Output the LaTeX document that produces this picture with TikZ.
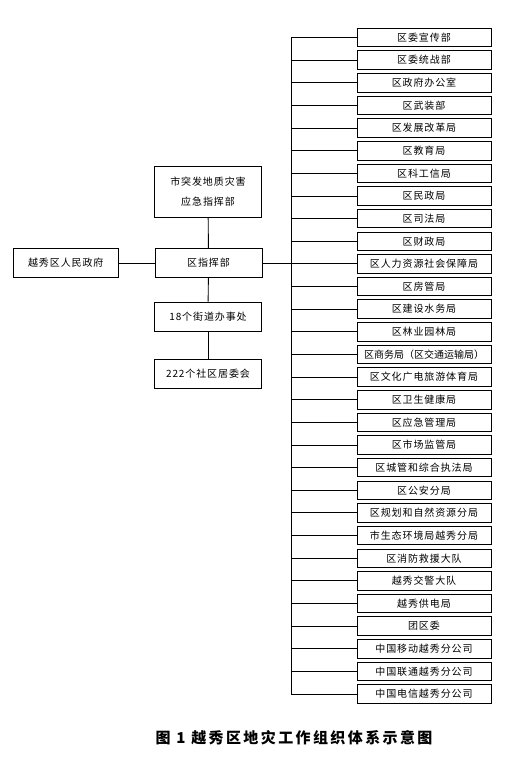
\documentclass[tikz,border=0pt]{standalone}
\usepackage{fontspec}
\setmainfont{Noto Sans CJK SC}
\usetikzlibrary{positioning}
\tikzset{
  unitbox/.style={draw, line width=0.9pt, minimum width=134pt, minimum height=18.5pt,
    inner sep=0pt, font=\fontsize{10}{12}\selectfont\addfontfeatures{LetterSpace=9}},
  leftbox/.style={unitbox, minimum width=107pt, minimum height=29pt},
  link/.style={line width=0.9pt}
}

\begin{document}
\begin{tikzpicture}[x=1pt,y=-1pt]
\useasboundingbox (0,0) rectangle (524,760);
\fill[white] (0,0) rectangle (524,760);
% left part
\node[leftbox] (cmd) at (208.5,263) {区指挥部};
\node[leftbox, minimum width=105pt] (gov) at (65.8,263) {越秀区人民政府};
\node[leftbox, minimum height=51pt, align=center, font=\fontsize{10}{20}\selectfont\addfontfeatures{LetterSpace=9}] (hq) at (208,191.5) {市突发地质灾害\\应急指挥部};
\node[leftbox] (street) at (208,316.5) {18个街道办事处};
\node[leftbox] (community) at (208,373.8) {222个社区居委会};
\draw[link] (gov) -- (cmd);
\draw[link] (hq) -- (cmd);
\draw[link] (cmd) -- (street);
\draw[link] (street) -- (community);
% right column
\coordinate (bus) at (291,0);
\foreach \name [count=\i] in {区委宣传部, 区委统战部, 区政府办公室, 区武装部, 区发展改革局,
  区教育局, 区科工信局, 区民政局, 区司法局, 区财政局, 区人力资源社会保障局, 区房管局,
  区建设水务局, 区林业园林局, {\addfontfeatures{LetterSpace=0}区商务局（区交通运输局）},
  区文化广电旅游体育局, 区卫生健康局,
  区应急管理局, 区市场监管局, 区城管和综合执法局, 区公安分局, 区规划和自然资源分局,
  市生态环境局越秀分局, 区消防救援大队, 越秀交警大队, 越秀供电局, 团区委,
  中国移动越秀分公司, 中国联通越秀分公司, 中国电信越秀分公司} {
  \node[unitbox] (dept\i) at (424,{37.5+(\i-1)*22.64}) {\name};
  \draw[link] (dept\i.west) -- (dept\i.west -| bus);
}
\draw[link] (dept1.west -| bus) -- (dept30.west -| bus);
\draw[link] (cmd.east) -- (cmd.east -| bus);
% caption
\node[font=\bfseries\fontsize{15}{18}\selectfont\addfontfeatures{LetterSpace=16}] (caption) at (294,738) {图 1 越秀区地灾工作组织体系示意图};
\end{tikzpicture}
\end{document}
